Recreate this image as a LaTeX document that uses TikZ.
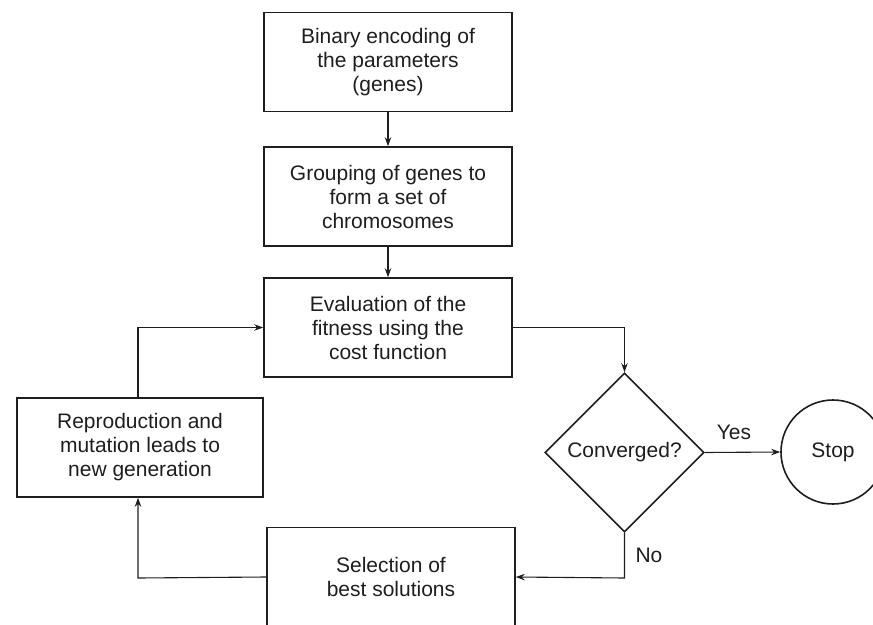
\documentclass[tikz,border=0pt]{standalone}
\usepackage{fontspec}
\setmainfont{Liberation Sans}
\usetikzlibrary{arrows.meta,shapes.geometric}
\definecolor{ink}{HTML}{1E1E1E}
\begin{document}
\begin{tikzpicture}[x=1pt,y=-1pt,
  every node/.style={text=ink},
  txt/.style={font=\fontsize{21}{24}\selectfont},
  box/.style={txt,draw=ink,line width=1.6pt,rectangle,minimum width=248pt,minimum height=99pt,align=center,inner sep=0pt},
  dec/.style={txt,draw=ink,line width=1.6pt,diamond,minimum width=159pt,minimum height=159pt,inner sep=0pt},
  term/.style={txt,draw=ink,line width=1.6pt,circle,minimum size=104pt,inner sep=0pt},
  conn/.style={draw=ink,line width=1.1pt,-{Stealth[length=9pt,width=6.5pt]}}
]
\useasboundingbox (0,0) rectangle (873,624);
\clip (0,0) rectangle (873,624);
\node[box] (b1) at (388,62) {Binary encoding of\\the parameters\\(genes)};
\node[box] (b2) at (388,196.5) {Grouping of genes to\\form a set of\\chromosomes};
\node[box] (b3) at (388,327.5) {Evaluation of the\\fitness using the\\cost function};
\node[dec] (d) at (624.5,452.5) {Converged?};
\node[term] (stop) at (833,452) {Stop};
\node[box] (sel) at (391,577) {Selection of\\best solutions};
\node[box,minimum width=246pt] (rep) at (140,447.5) {Reproduction and\\mutation leads to\\new generation};
\coordinate (c1) at (624.5,327.5);
\coordinate (c2) at (624.5,578);
\coordinate (c3) at (138,578);
\coordinate (c4) at (138,327.5);
\draw[conn] (b1) -- (b2);
\draw[conn] (b2) -- (b3);
\draw[conn] (b3.east) -- (c1) -- (d.north);
\draw[conn] (d.east) -- (stop.west);
\node[txt] (yes) at (734,432) {Yes};
\draw[conn] (d.south) -- (c2) -- (sel.east);
\node[txt] (no) at (649,555) {No};
\draw[conn] (sel.west) -- (c3) -- (c3 |- rep.south);
\draw[conn] (c4 |- rep.north) -- (c4) -- (b3.west);
\end{tikzpicture}
\end{document}
